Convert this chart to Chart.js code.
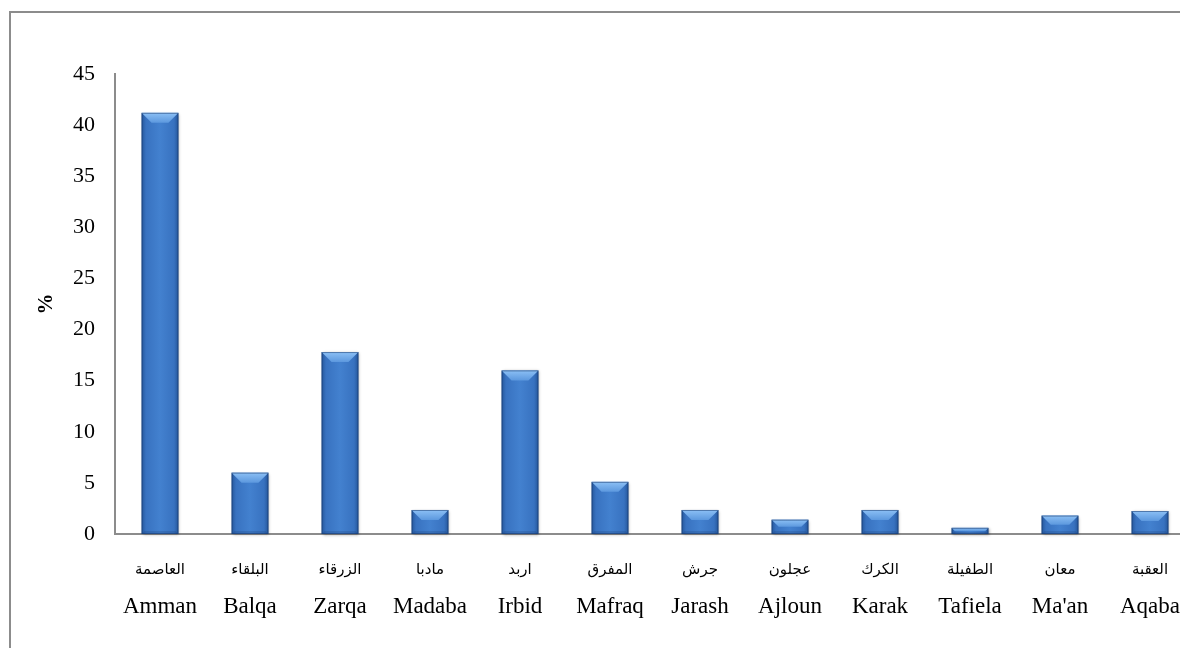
<!DOCTYPE html>
<html>
<head>
<meta charset="utf-8">
<script src="https://cdn.jsdelivr.net/npm/chart.js@4/dist/chart.umd.min.js"></script>
<style>
  html, body { margin: 0; padding: 0; background: #fff; overflow: hidden; }
  #cadre { position: absolute; left: 0; top: 0; width: 1180px; height: 648px; overflow: hidden; }
  #bord { position: absolute; left: 9px; top: 11px; width: 1300px; height: 800px; border-left: 2px solid #8c8c8c; border-top: 2px solid #8c8c8c; }
  #zone { position: absolute; left: 0; top: 0; width: 1200px; height: 660px; }
</style>
</head>
<body>
<div id="cadre">
  <div id="bord"></div>
  <div id="zone"><canvas id="canva1"></canvas></div>
</div>
<script>
// gouvernorats (anglais / arabe) et pourcentages
const villes = ['Amman', 'Balqa', 'Zarqa', 'Madaba', 'Irbid', 'Mafraq', 'Jarash', 'Ajloun', 'Karak', 'Tafiela', "Ma'an", 'Aqaba'];
const villesAr = ['العاصمة', 'البلقاء', 'الزرقاء', 'مادبا', 'اربد', 'المفرق', 'جرش', 'عجلون', 'الكرك', 'الطفيلة', 'معان', 'العقبة'];
const pourcentages = [41.2, 6.0, 17.8, 2.35, 16.0, 5.1, 2.35, 1.4, 2.35, 0.6, 1.8, 2.25];
const yMax = 45;
const yPas = 5;

const police = "'Liberation Serif', 'Times New Roman', 'DejaVu Sans', serif";

// dessine les barres avec un effet biseauté (positions prises sur les éléments du graphique)
const biseau = {
  id: 'biseau',
  afterDatasetsDraw(chart) {
    const ctx = chart.ctx;
    chart.getDatasetMeta(0).data.forEach(bar => {
      const x0 = bar.x - bar.width / 2;
      const x1 = bar.x + bar.width / 2;
      const haut = bar.y;
      const bas = bar.base;
      const h = bas - haut;
      const b = Math.min(10, h / 2);
      ctx.save();
      ctx.shadowColor = 'rgba(0,0,0,0.35)';
      ctx.shadowBlur = 3;
      ctx.shadowOffsetX = 1;
      ctx.shadowOffsetY = 1;
      const grad = ctx.createLinearGradient(x0, 0, x1, 0);
      grad.addColorStop(0, '#24569a');
      grad.addColorStop(0.12, '#3872c0');
      grad.addColorStop(0.5, '#4381cf');
      grad.addColorStop(0.88, '#3872c0');
      grad.addColorStop(1, '#24569a');
      ctx.fillStyle = grad;
      ctx.fillRect(x0, haut, x1 - x0, h);
      ctx.restore();

      ctx.save();
      // facette du haut
      const gh = ctx.createLinearGradient(0, haut, 0, haut + b);
      gh.addColorStop(0, '#8cc0f5');
      gh.addColorStop(1, '#5c98de');
      ctx.fillStyle = gh;
      ctx.beginPath();
      ctx.moveTo(x0, haut);
      ctx.lineTo(x1, haut);
      ctx.lineTo(x1 - b, haut + b);
      ctx.lineTo(x0 + b, haut + b);
      ctx.closePath();
      ctx.fill();
      // facette du bas, discrète
      ctx.fillStyle = 'rgba(20,50,100,0.2)';
      const bb = Math.min(3, h / 3);
      ctx.beginPath();
      ctx.moveTo(x0, bas);
      ctx.lineTo(x1, bas);
      ctx.lineTo(x1 - bb, bas - bb);
      ctx.lineTo(x0 + bb, bas - bb);
      ctx.closePath();
      ctx.fill();
      // bords
      ctx.strokeStyle = 'rgba(20,50,100,0.5)';
      ctx.lineWidth = 1;
      ctx.strokeRect(x0 + 0.5, haut + 0.5, x1 - x0 - 1, h - 1);
      ctx.restore();
    });
  }
};

const ctx = document.querySelector('#canva1');

new Chart(ctx, {
  type: 'bar',
  data: {
    labels: villes,
    datasets: [{
      label: '%',
      data: pourcentages,
      backgroundColor: 'rgba(0,0,0,0)',
      borderWidth: 0,
      categoryPercentage: 1,
      barPercentage: 0.41
    }]
  },
  options: {
    responsive: true,
    maintainAspectRatio: false,
    animation: false,
    layout: { padding: { left: 0, right: 5, top: 74, bottom: 36 } },
    plugins: {
      legend: { display: false },
      tooltip: { enabled: false }
    },
    scales: {
      y: {
        min: 0,
        max: yMax,
        ticks: {
          stepSize: yPas,
          color: '#000',
          padding: 20,
          font: { family: police, size: 22 }
        },
        grid: { display: false, drawTicks: false },
        border: { display: true, color: '#8c8c8c', width: 2 },
        title: {
          display: true,
          text: '%',
          color: '#000',
          font: { family: police, size: 21, weight: 'bold' },
          padding: { top: 34, bottom: 0 }
        },
        afterFit: s => { s.width = 115; }
      },
      xAr: {
        type: 'category',
        position: 'bottom',
        labels: villesAr,
        weight: 0,
        offset: true,
        ticks: {
          color: '#000',
          padding: 27,
          maxRotation: 0,
          autoSkip: false,
          font: { family: police, size: 15 }
        },
        grid: { display: false, drawTicks: false },
        border: { display: false },
        afterFit: s => { s.height = 50; }
      },
      x: {
        position: 'bottom',
        weight: 1,
        ticks: {
          color: '#000',
          padding: 9,
          maxRotation: 0,
          autoSkip: false,
          font: { family: police, size: 23 }
        },
        grid: { display: false, drawTicks: false },
        border: { display: false },
        afterFit: s => { s.height = 40; }
      }
    }
  },
  plugins: [biseau, {
    // ligne de l'axe des x à la base des barres
    id: 'axeX',
    beforeDatasetsDraw(chart) {
      const a = chart.chartArea;
      const c = chart.ctx;
      c.save();
      c.strokeStyle = '#8c8c8c';
      c.lineWidth = 2;
      c.beginPath();
      c.moveTo(a.left, chart.scales.y.getPixelForValue(0));
      c.lineTo(a.right, chart.scales.y.getPixelForValue(0));
      c.stroke();
      c.restore();
    }
  }]
});
</script>
</body>
</html>
